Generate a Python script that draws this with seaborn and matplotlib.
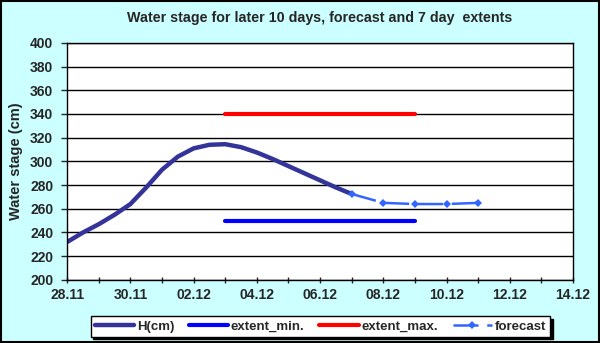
import numpy as np
import pandas as pd
import matplotlib
matplotlib.use("Agg")
import matplotlib.pyplot as plt
import matplotlib.dates as mdates
import seaborn as sns

# observed water stage, 12-hour steps
h_time = ["2010-11-28 00:00", "2010-11-28 12:00", "2010-11-29 00:00", "2010-11-29 12:00",
          "2010-11-30 00:00", "2010-11-30 12:00", "2010-12-01 00:00", "2010-12-01 12:00",
          "2010-12-02 00:00", "2010-12-02 12:00", "2010-12-03 00:00", "2010-12-03 12:00",
          "2010-12-04 00:00", "2010-12-04 12:00", "2010-12-05 00:00", "2010-12-05 12:00",
          "2010-12-06 00:00", "2010-12-06 12:00", "2010-12-07 00:00"]
h_cm = [232, 240, 247, 255, 264, 278, 293, 304, 311, 314, 314.5, 312, 307.5, 302,
        296, 290, 284, 278, 272.5]

fc_time = ["2010-12-07", "2010-12-08", "2010-12-09", "2010-12-10", "2010-12-11"]
fc_cm = [272.5, 265, 264, 264, 265]

ext_time = ["2010-12-03", "2010-12-09"]
ext_min = [250, 250]
ext_max = [340, 340]

df_h = pd.DataFrame({"date": pd.to_datetime(h_time), "H(cm)": h_cm})
df_fc = pd.DataFrame({"date": pd.to_datetime(fc_time), "forecast": fc_cm})
df_ext = pd.DataFrame({"date": pd.to_datetime(ext_time), "min": ext_min, "max": ext_max})

sns.set_style("white")
plt.rcParams["font.family"] = ["Liberation Sans", "DejaVu Sans"]
plt.rcParams["font.weight"] = "bold"

fig = plt.figure(figsize=(6, 3.43), dpi=100)
fig.patch.set_facecolor("#CCFFFF")
ax = fig.add_axes([0.112, 0.184, 0.843, 0.691])
ax.set_facecolor("white")

sns.lineplot(data=df_h, x="date", y="H(cm)", ax=ax, color="#333399", linewidth=3.2,
             label="H(cm)", solid_joinstyle="round", solid_capstyle="round")
sns.lineplot(data=df_ext, x="date", y="min", ax=ax, color="#0000FF", linewidth=3,
             label="extent_min.")
sns.lineplot(data=df_ext, x="date", y="max", ax=ax, color="#FF0000", linewidth=3,
             label="extent_max.")
sns.lineplot(data=df_fc, x="date", y="forecast", ax=ax, color="#3366FF", linewidth=1.8,
             linestyle=(0, (10, 3.5)), marker="D", markersize=4, markeredgewidth=0,
             label="forecast")

ax.set_ylim(200, 400)
ax.set_yticks(np.arange(200, 401, 20))
ax.set_xlim(pd.Timestamp("2010-11-28"), pd.Timestamp("2010-12-14"))
ax.set_xticks(pd.to_datetime(["2010-11-28", "2010-11-30", "2010-12-02", "2010-12-04",
                              "2010-12-06", "2010-12-08", "2010-12-10", "2010-12-12",
                              "2010-12-14"]))
ax.xaxis.set_minor_locator(mdates.DayLocator())
ax.xaxis.set_major_formatter(mdates.DateFormatter("%d.%m"))
ax.grid(axis="y", color="black", linewidth=1)
ax.tick_params(axis="y", which="major", direction="out", length=4, width=1,
               labelsize=10, pad=6, left=True)
ax.tick_params(axis="x", which="both", direction="inout", length=4, width=1,
               labelsize=10, pad=4, bottom=True)
for s in ax.spines.values():
    s.set_color("black")
    s.set_linewidth(1)
ax.set_xlabel("")
ax.set_ylabel("Water stage (cm)", fontsize=10.5, fontweight="bold", labelpad=5)

fig.suptitle("Water stage for later 10 days, forecast and 7 day  extents",
             x=0.532, y=0.968, fontsize=10.3, fontweight="bold")

ax.legend_.remove()
handles, labels = ax.get_legend_handles_labels()
leg = fig.legend(handles, labels, loc="center", bbox_to_anchor=(0.534, 0.048), ncol=4,
                 fontsize=9.5, frameon=True, fancybox=False, handlelength=3.0,
                 columnspacing=1.1, handletextpad=0.2, borderpad=0.3,
                 shadow={"color": "black", "alpha": 1})
leg.get_frame().set_edgecolor("black")
leg.get_frame().set_linewidth(1)

# black frame round the whole picture
fig.add_artist(plt.Rectangle((0.002, 0.003), 0.996, 0.994, transform=fig.transFigure,
                             fill=False, edgecolor="black", linewidth=1.5))

fig.savefig("out.png", dpi=100, facecolor=fig.get_facecolor())
